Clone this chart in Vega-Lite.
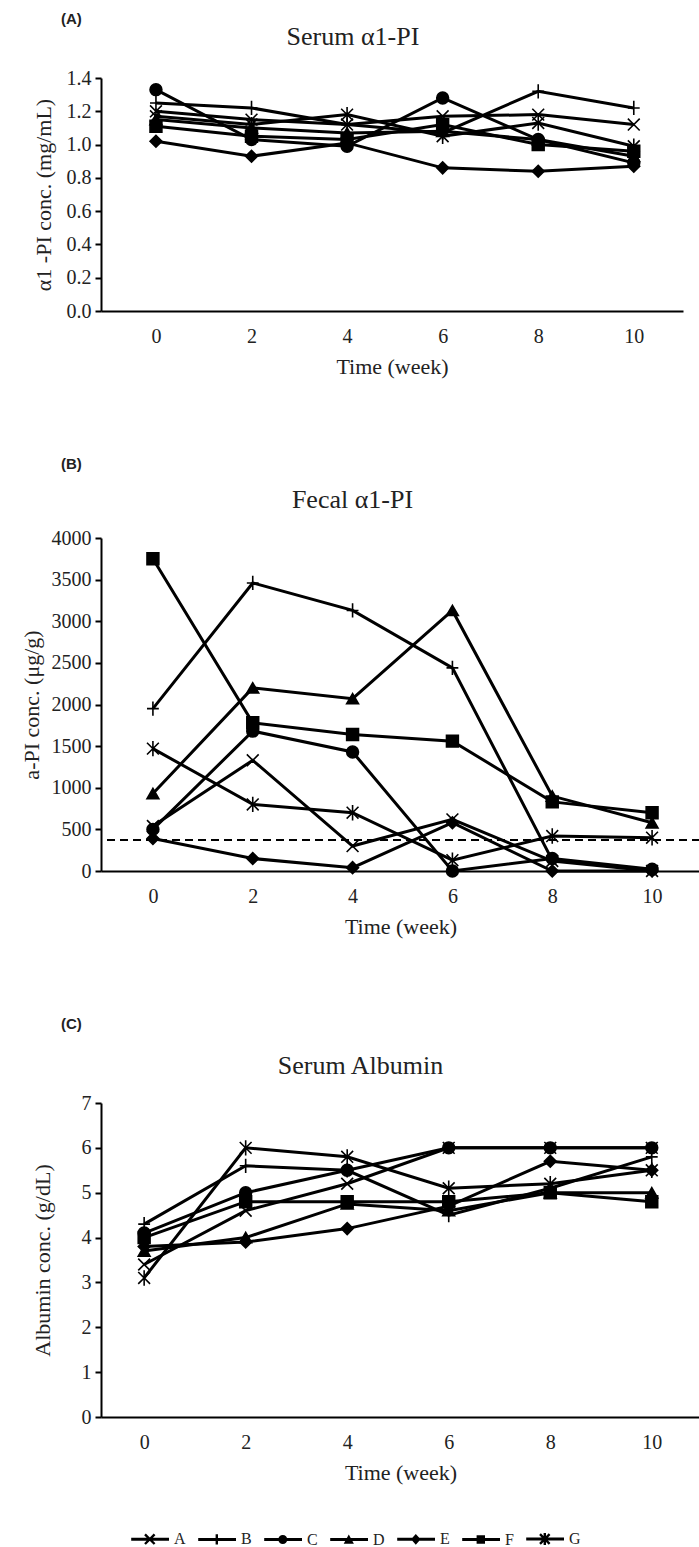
{
  "$schema": "https://vega.github.io/schema/vega-lite/v6.json",
  "background": "white",
  "padding": {"left": 20, "top": 12, "right": 0, "bottom": 0},
  "datasets": {
    "a": [
      {"s":"A","w":0,"v":1.20},{"s":"A","w":2,"v":1.15},{"s":"A","w":4,"v":1.12},{"s":"A","w":6,"v":1.17},{"s":"A","w":8,"v":1.18},{"s":"A","w":10,"v":1.12},
      {"s":"B","w":0,"v":1.25},{"s":"B","w":2,"v":1.22},{"s":"B","w":4,"v":1.12},{"s":"B","w":6,"v":1.07},{"s":"B","w":8,"v":1.32},{"s":"B","w":10,"v":1.22},
      {"s":"C","w":0,"v":1.33},{"s":"C","w":2,"v":1.03},{"s":"C","w":4,"v":0.99},{"s":"C","w":6,"v":1.28},{"s":"C","w":8,"v":1.03},{"s":"C","w":10,"v":0.89},
      {"s":"D","w":0,"v":1.15},{"s":"D","w":2,"v":1.10},{"s":"D","w":4,"v":1.07},{"s":"D","w":6,"v":1.08},{"s":"D","w":8,"v":1.03},{"s":"D","w":10,"v":0.93},
      {"s":"E","w":0,"v":1.02},{"s":"E","w":2,"v":0.93},{"s":"E","w":4,"v":1.01},{"s":"E","w":6,"v":0.86},{"s":"E","w":8,"v":0.84},{"s":"E","w":10,"v":0.87},
      {"s":"F","w":0,"v":1.11},{"s":"F","w":2,"v":1.05},{"s":"F","w":4,"v":1.03},{"s":"F","w":6,"v":1.12},{"s":"F","w":8,"v":1.00},{"s":"F","w":10,"v":0.96},
      {"s":"G","w":0,"v":1.17},{"s":"G","w":2,"v":1.12},{"s":"G","w":4,"v":1.18},{"s":"G","w":6,"v":1.05},{"s":"G","w":8,"v":1.13},{"s":"G","w":10,"v":0.99}
    ],
    "b": [
      {"s":"A","w":0,"v":540},{"s":"A","w":2,"v":1330},{"s":"A","w":4,"v":300},{"s":"A","w":6,"v":620},{"s":"A","w":8,"v":120},{"s":"A","w":10,"v":0},
      {"s":"B","w":0,"v":1950},{"s":"B","w":2,"v":3460},{"s":"B","w":4,"v":3130},{"s":"B","w":6,"v":2440},{"s":"B","w":8,"v":130},{"s":"B","w":10,"v":10},
      {"s":"C","w":0,"v":500},{"s":"C","w":2,"v":1680},{"s":"C","w":4,"v":1430},{"s":"C","w":6,"v":0},{"s":"C","w":8,"v":150},{"s":"C","w":10,"v":20},
      {"s":"D","w":0,"v":930},{"s":"D","w":2,"v":2200},{"s":"D","w":4,"v":2070},{"s":"D","w":6,"v":3130},{"s":"D","w":8,"v":900},{"s":"D","w":10,"v":580},
      {"s":"E","w":0,"v":390},{"s":"E","w":2,"v":150},{"s":"E","w":4,"v":40},{"s":"E","w":6,"v":580},{"s":"E","w":8,"v":0},{"s":"E","w":10,"v":0},
      {"s":"F","w":0,"v":3750},{"s":"F","w":2,"v":1780},{"s":"F","w":4,"v":1640},{"s":"F","w":6,"v":1560},{"s":"F","w":8,"v":830},{"s":"F","w":10,"v":700},
      {"s":"G","w":0,"v":1470},{"s":"G","w":2,"v":800},{"s":"G","w":4,"v":700},{"s":"G","w":6,"v":130},{"s":"G","w":8,"v":420},{"s":"G","w":10,"v":400}
    ],
    "c": [
      {"s":"A","w":0,"v":3.4},{"s":"A","w":2,"v":4.6},{"s":"A","w":4,"v":5.2},{"s":"A","w":6,"v":6.0},{"s":"A","w":8,"v":6.0},{"s":"A","w":10,"v":6.0},
      {"s":"B","w":0,"v":4.3},{"s":"B","w":2,"v":5.6},{"s":"B","w":4,"v":5.5},{"s":"B","w":6,"v":4.5},{"s":"B","w":8,"v":5.1},{"s":"B","w":10,"v":5.8},
      {"s":"C","w":0,"v":4.1},{"s":"C","w":2,"v":5.0},{"s":"C","w":4,"v":5.5},{"s":"C","w":6,"v":6.0},{"s":"C","w":8,"v":6.0},{"s":"C","w":10,"v":6.0},
      {"s":"D","w":0,"v":3.7},{"s":"D","w":2,"v":4.0},{"s":"D","w":4,"v":4.75},{"s":"D","w":6,"v":4.6},{"s":"D","w":8,"v":5.0},{"s":"D","w":10,"v":5.0},
      {"s":"E","w":0,"v":3.8},{"s":"E","w":2,"v":3.9},{"s":"E","w":4,"v":4.2},{"s":"E","w":6,"v":4.7},{"s":"E","w":8,"v":5.7},{"s":"E","w":10,"v":5.5},
      {"s":"F","w":0,"v":4.0},{"s":"F","w":2,"v":4.8},{"s":"F","w":4,"v":4.8},{"s":"F","w":6,"v":4.8},{"s":"F","w":8,"v":5.0},{"s":"F","w":10,"v":4.8},
      {"s":"G","w":0,"v":3.1},{"s":"G","w":2,"v":6.0},{"s":"G","w":4,"v":5.8},{"s":"G","w":6,"v":5.1},{"s":"G","w":8,"v":5.2},{"s":"G","w":10,"v":5.5}
    ],
    "ref": [{"v": 372}]
  },
  "resolve": {"scale": {"shape": "independent"}},
  "spacing": 80,
  "vconcat": [
    {
      "title": {"text": "(A)", "anchor": "start", "frame": "group", "font": "Liberation Sans", "fontWeight": "bold", "fontSize": 15, "dx": -40, "offset": -3},
      "vconcat": [
        {
          "title": {"text": "Serum α1-PI", "offset": 18, "dx": -39},
          "width": 582, "height": 233,
          "data": {"name": "a"},
          "encoding": {
            "x": {"field": "w", "type": "quantitative", "scale": {"domain": [-1.15, 11.03], "nice": false, "zero": false}, "axis": {"values": [0,2,4,6,8,10], "ticks": false, "title": "Time (week)"}},
            "y": {"field": "v", "type": "quantitative", "scale": {"domain": [0, 1.4], "nice": false}, "axis": {"values": [0,0.2,0.4,0.6,0.8,1.0,1.2,1.4], "format": ".1f", "title": "α1 -PI conc. (mg/mL)", "titlePadding": 11}}
          },
          "layer": [
            {"mark": {"type": "line", "color": "black", "strokeWidth": 3}, "encoding": {"detail": {"field": "s"}}},
            {"mark": {"type": "point", "filled": true, "color": "black", "stroke": "black", "strokeWidth": 1.6, "size": 140, "opacity": 1},
             "encoding": {"shape": {"field": "s", "type": "nominal", "legend": null, "scale": {"domain": ["A","B","C","D","E","F","G"], "range": ["M-1,-1L1,1M-1,1L1,-1","M-1,0L1,0M0,-1.2L0,1.2","circle","triangle-up","diamond","square","M-1,-1L1,1M-1,1L1,-1M0,-1.3L0,1.3"]}}}}
          ]
        }
      ]
    },
    {
      "title": {"text": "(B)", "anchor": "start", "frame": "group", "font": "Liberation Sans", "fontWeight": "bold", "fontSize": 15, "dx": -40, "offset": 15},
      "vconcat": [
        {
          "title": {"text": "Fecal α1-PI", "offset": 15, "dx": -48},
          "width": 599, "height": 333,
          "layer": [
            {
              "data": {"name": "b"},
              "encoding": {
                "x": {"field": "w", "type": "quantitative", "scale": {"domain": [-1.04, 10.96], "nice": false, "zero": false}, "axis": {"values": [0,2,4,6,8,10], "ticks": false, "title": "Time (week)"}},
                "y": {"field": "v", "type": "quantitative", "scale": {"domain": [0, 4000], "nice": false}, "axis": {"values": [0,500,1000,1500,2000,2500,3000,3500,4000], "format": "d", "title": "a-PI conc. (μg/g)", "titlePadding": 8}}
              },
              "layer": [
                {"mark": {"type": "line", "color": "black", "strokeWidth": 3}, "encoding": {"detail": {"field": "s"}}},
                {"mark": {"type": "point", "filled": true, "color": "black", "stroke": "black", "strokeWidth": 1.6, "size": 140, "opacity": 1},
                 "encoding": {"shape": {"field": "s", "type": "nominal", "legend": null, "scale": {"domain": ["A","B","C","D","E","F","G"], "range": ["M-1,-1L1,1M-1,1L1,-1","M-1,0L1,0M0,-1.2L0,1.2","circle","triangle-up","diamond","square","M-1,-1L1,1M-1,1L1,-1M0,-1.3L0,1.3"]}}}}
              ]
            },
            {
              "data": {"name": "ref"},
              "mark": {"type": "rule", "color": "black", "strokeWidth": 2, "strokeDash": [8, 5]},
              "encoding": {"y": {"field": "v", "type": "quantitative"}}
            }
          ]
        }
      ]
    },
    {
      "title": {"text": "(C)", "anchor": "start", "frame": "group", "font": "Liberation Sans", "fontWeight": "bold", "fontSize": 15, "dx": -40, "offset": 21},
      "vconcat": [
        {
          "title": {"text": "Serum Albumin", "offset": 14, "dx": -40},
          "width": 599, "height": 314,
          "data": {"name": "c"},
          "encoding": {
            "x": {"field": "w", "type": "quantitative", "scale": {"domain": [-0.85, 10.95], "nice": false, "zero": false}, "axis": {"values": [0,2,4,6,8,10], "ticks": false, "title": "Time (week)"}},
            "y": {"field": "v", "type": "quantitative", "scale": {"domain": [0, 7], "nice": false}, "axis": {"values": [0,1,2,3,4,5,6,7], "format": "d", "title": "Albumin  conc. (g/dL)", "titlePadding": 27}}
          },
          "resolve": {"scale": {"shape": "independent"}},
          "layer": [
            {"mark": {"type": "line", "color": "black", "strokeWidth": 3}, "encoding": {"detail": {"field": "s"}}},
            {"mark": {"type": "point", "filled": true, "color": "black", "stroke": "black", "strokeWidth": 1.6, "size": 140, "opacity": 1},
             "encoding": {"shape": {"field": "s", "type": "nominal", "legend": null, "scale": {"domain": ["A","B","C","D","E","F","G"], "range": ["M-1,-1L1,1M-1,1L1,-1","M-1,0L1,0M0,-1.2L0,1.2","circle","triangle-up","diamond","square","M-1,-1L1,1M-1,1L1,-1M0,-1.3L0,1.3"]}}}},
            {"mark": {"type": "point", "filled": true, "color": "black", "fillOpacity": 0, "strokeOpacity": 0},
             "encoding": {"shape": {"field": "s", "type": "nominal",
               "scale": {"domain": ["A","B","C","D","E","F","G"], "range": [
                 "M-5.3,-0.25L1,-0.25L1,0.25L-5.3,0.25ZM-2.86,-0.94L-1.26,0.66L-1.54,0.94L-3.14,-0.66ZM-2.86,0.94L-3.14,0.66L-1.54,-0.94L-1.26,-0.66Z",
                 "M-5.3,-0.25L1,-0.25L1,0.25L-5.3,0.25ZM-2.4,-0.85L-2,-0.85L-2,0.85L-2.4,0.85Z",
                 "M-5.3,-0.25L1,-0.25L1,0.25L-5.3,0.25ZM-1.45,0A0.75,0.75,0,1,1,-2.95,0A0.75,0.75,0,1,1,-1.45,0Z",
                 "M-5.3,-0.25L1,-0.25L1,0.25L-5.3,0.25ZM-2.2,-0.85L-1.35,0.7L-3.05,0.7Z",
                 "M-5.3,-0.25L1,-0.25L1,0.25L-5.3,0.25ZM-2.2,-0.9L-1.4,0L-2.2,0.9L-3,0Z",
                 "M-5.3,-0.25L1,-0.25L1,0.25L-5.3,0.25ZM-2.9,-0.7L-1.5,-0.7L-1.5,0.7L-2.9,0.7Z",
                 "M-5.3,-0.25L1,-0.25L1,0.25L-5.3,0.25ZM-2.86,-0.94L-1.26,0.66L-1.54,0.94L-3.14,-0.66ZM-2.86,0.94L-3.14,0.66L-1.54,-0.94L-1.26,-0.66ZM-2.4,-1L-2,-1L-2,1L-2.4,1Z"]},
               "legend": {"title": null, "orient": "none", "legendX": 54, "legendY": 428, "direction": "horizontal", "columns": 7, "symbolSize": 144,
                 "symbolFillColor": "black", "symbolOpacity": 1,
                 "labelFont": "Liberation Serif", "labelFontSize": 16, "labelColor": "#222", "labelOffset": 3, "columnPadding": 9,
                 "encode": {"symbols": {"fill": {"value": "black"}, "opacity": {"value": 1}, "fillOpacity": {"value": 1}}}}}}}
          ]
        }
      ]
    }
  ],
  "config": {
    "view": {"stroke": null},
    "title": {"font": "Liberation Serif", "fontSize": 26, "fontWeight": "normal", "color": "#222"},
    "axis": {
      "grid": false,
      "domainColor": "black", "domainWidth": 2,
      "tickColor": "black", "tickWidth": 2, "tickSize": 6,
      "labelFont": "Liberation Serif", "labelFontSize": 20, "labelColor": "#222", "labelPadding": 4,
      "titleFont": "Liberation Serif", "titleFontSize": 22, "titleFontWeight": "normal", "titleColor": "#222"
    },
    "axisX": {"labelPadding": 15, "titlePadding": 10}
  }
}
